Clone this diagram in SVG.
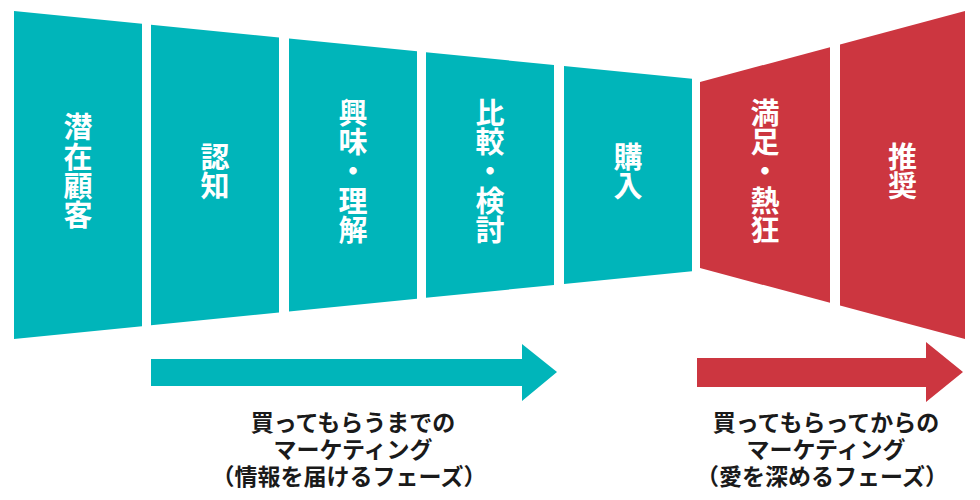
<svg xmlns="http://www.w3.org/2000/svg" width="980" height="500" viewBox="0 0 980 500">
<style>
.teal{fill:#00B5BA}
.red{fill:#CC3640}
.pl{font-family:"Noto Sans CJK JP","Noto Sans",sans-serif;font-weight:700;font-size:29px;fill:#ffffff;text-anchor:middle;writing-mode:vertical-rl;letter-spacing:0.4px}
.lb{font-family:"Noto Sans CJK JP","Noto Sans",sans-serif;font-weight:700;font-size:23px;fill:#1a1a1a;text-anchor:middle}
</style>
<rect width="980" height="500" fill="#ffffff"/>
<g id="node-senzai">
<polygon class="teal" points="14,11 142,23.8 142,326.2 14,339"/>
<text class="pl" x="78" y="171.5">潜在顧客</text>
</g>
<g id="node-ninchi">
<polygon class="teal" points="151,24.7 279,37.5 279,312.5 151,325.3"/>
<text class="pl" x="215" y="171.5">認知</text>
</g>
<g id="node-kyomi">
<polygon class="teal" points="289,38.5 417,51.3 417,298.7 289,311.5"/>
<text class="pl" x="353" y="171.5">興味・理解</text>
</g>
<g id="node-hikaku">
<polygon class="teal" points="426,52.2 554,65 554,285 426,297.8"/>
<text class="pl" x="490" y="171.5">比較・検討</text>
</g>
<g id="node-konyu">
<polygon class="teal" points="564,66 692,78.8 692,271.2 564,284"/>
<text class="pl" x="628" y="171.5">購入</text>
</g>
<g id="node-manzoku">
<polygon class="red" points="700,82 830,47.2 830,302.8 700,268"/>
<text class="pl" x="765" y="171.5">満足・熱狂</text>
</g>
<g id="node-suisho">
<polygon class="red" points="840,44.5 965,11.1 965,338.9 840,305.5"/>
<text class="pl" x="902.5" y="171.5">推奨</text>
</g>
<g id="connectors">
<polygon class="teal" points="151,359 522,359 522,344 557,372 522,401 522,386 151,386"/>
<polygon class="red" points="697,358 926,358 926,342 963,372 926,402 926,387 697,387"/>
</g>
<g id="label-before">
<text class="lb"><tspan x="353" y="431">買ってもらうまでの</tspan><tspan x="353" y="458">マーケティング</tspan><tspan x="349" y="485">（情報を届けるフェーズ）</tspan></text>
</g>
<g id="label-after">
<text class="lb"><tspan x="826" y="431">買ってもらってからの</tspan><tspan x="826" y="458">マーケティング</tspan><tspan x="822" y="485">（愛を深めるフェーズ）</tspan></text>
</g>
</svg>
